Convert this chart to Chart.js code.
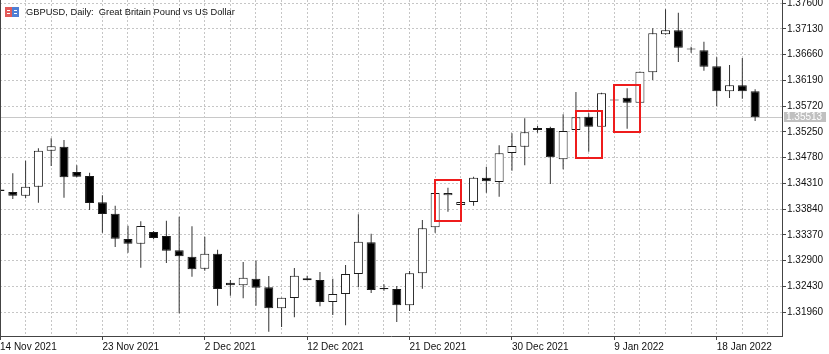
<!DOCTYPE html>
<html>
<head>
<meta charset="utf-8">
<script src="https://cdn.jsdelivr.net/npm/chart.js@4"></script>
<style>
  html, body { margin: 0; padding: 0; background: #fff; }
  canvas { display: block; }
</style>
</head>
<body>
<canvas id="chart" width="829" height="354"></canvas>
<script>
// GBPUSD daily candles, one bar per trading day (Sun..Fri)
const dates = [
  '14 Nov 2021', '15 Nov 2021', '16 Nov 2021', '17 Nov 2021', '18 Nov 2021', '19 Nov 2021',
  '21 Nov 2021', '22 Nov 2021', '23 Nov 2021', '24 Nov 2021', '25 Nov 2021', '26 Nov 2021',
  '28 Nov 2021', '29 Nov 2021', '30 Nov 2021', '1 Dec 2021', '2 Dec 2021', '3 Dec 2021',
  '5 Dec 2021', '6 Dec 2021', '7 Dec 2021', '8 Dec 2021', '9 Dec 2021', '10 Dec 2021',
  '12 Dec 2021', '13 Dec 2021', '14 Dec 2021', '15 Dec 2021', '16 Dec 2021', '17 Dec 2021',
  '19 Dec 2021', '20 Dec 2021', '21 Dec 2021', '22 Dec 2021', '23 Dec 2021', '24 Dec 2021',
  '26 Dec 2021', '27 Dec 2021', '28 Dec 2021', '29 Dec 2021', '30 Dec 2021', '31 Dec 2021',
  '2 Jan 2022', '3 Jan 2022', '4 Jan 2022', '5 Jan 2022', '6 Jan 2022', '7 Jan 2022',
  '9 Jan 2022', '10 Jan 2022', '11 Jan 2022', '12 Jan 2022', '13 Jan 2022', '14 Jan 2022',
  '16 Jan 2022', '17 Jan 2022', '18 Jan 2022', '19 Jan 2022', '20 Jan 2022', '21 Jan 2022'
];

const opens = [
  1.34196, 1.34150, 1.34083, 1.34247, 1.34904, 1.34977, 1.34515, 1.34442, 1.33962, 1.33754,
  1.33292, 1.33206, 1.33420, 1.33347, 1.33086, 1.32969, 1.32750, 1.33024, 1.32494, 1.32447,
  1.32567, 1.32410, 1.32027, 1.32215, 1.32575, 1.32544, 1.32142, 1.32288, 1.32653, 1.33232,
  1.32398, 1.32379, 1.32082, 1.32666, 1.33506, 1.34090, 1.33913, 1.33968, 1.34411, 1.34333,
  1.34862, 1.34977, 1.35282, 1.35318, 1.34747, 1.35282, 1.35525, 1.35342, 1.35826, 1.35872,
  1.35780, 1.36335, 1.37029, 1.37102, 1.36755, 1.36737, 1.36445, 1.35988, 1.36098, 1.35988
];
const highs = [
  1.34223, 1.34491, 1.34721, 1.34948, 1.35130, 1.35099, 1.34637, 1.34502, 1.34090, 1.33900,
  1.33535, 1.33615, 1.33438, 1.33626, 1.33699, 1.33524, 1.33334, 1.33097, 1.32544, 1.32872,
  1.32896, 1.32617, 1.32220, 1.32763, 1.32622, 1.32690, 1.32567, 1.32817, 1.33743, 1.33389,
  1.32465, 1.32434, 1.32708, 1.33639, 1.34132, 1.34229, 1.33977, 1.34429, 1.34612, 1.35003,
  1.35222, 1.35495, 1.35355, 1.35342, 1.35568, 1.35976, 1.35587, 1.35960, 1.35830, 1.36043,
  1.36350, 1.37138, 1.37485, 1.37423, 1.36803, 1.36894, 1.36609, 1.36468, 1.36596, 1.36025
];
const lows = [
  1.34150, 1.34022, 1.34035, 1.33955, 1.34625, 1.34046, 1.34418, 1.33821, 1.33407, 1.33146,
  1.33042, 1.32768, 1.33287, 1.32854, 1.31936, 1.32604, 1.32713, 1.32074, 1.32257, 1.32210,
  1.32074, 1.31600, 1.31686, 1.31863, 1.32538, 1.32064, 1.31905, 1.31717, 1.32410, 1.32306,
  1.32348, 1.31777, 1.31978, 1.32385, 1.33407, 1.33790, 1.33904, 1.33900, 1.34137, 1.34064,
  1.34539, 1.34637, 1.35233, 1.34296, 1.34564, 1.35275, 1.34886, 1.35330, 1.35818, 1.35306,
  1.35775, 1.36195, 1.37020, 1.36523, 1.36693, 1.36364, 1.35720, 1.35866, 1.35853, 1.35446
];
const closes = [
  1.34168, 1.34083, 1.34247, 1.34904, 1.34984, 1.34418, 1.34429, 1.33949, 1.33748, 1.33298,
  1.33206, 1.33529, 1.33310, 1.33079, 1.32976, 1.32739, 1.33024, 1.32379, 1.32447, 1.32586,
  1.32403, 1.32027, 1.32220, 1.32622, 1.32538, 1.32142, 1.32288, 1.32653, 1.33243, 1.32361,
  1.32374, 1.32082, 1.32666, 1.33487, 1.34132, 1.34132, 1.33968, 1.34411, 1.34345, 1.34857,
  1.34990, 1.35240, 1.35318, 1.34783, 1.35264, 1.35514, 1.35342, 1.35952, 1.35822, 1.35780,
  1.36346, 1.37047, 1.37102, 1.36784, 1.36751, 1.36437, 1.35988, 1.36098, 1.35988, 1.35513
];

const priceTicks = [1.31960, 1.32430, 1.32900, 1.33370, 1.33840, 1.34310, 1.34780,
                    1.35250, 1.35720, 1.36190, 1.36660, 1.37130, 1.37600];
const bidPrice = 1.35513;

// red highlight frames: centre bar and price range
const boxBars = [35, 46, 49];
const boxTops = [1.34369, 1.35629, 1.36103];
const boxBottoms = [1.33621, 1.34771, 1.35245];

const titleText = 'GBPUSD, Daily:  Great Britain Pound vs US Dollar';

const bodyData = opens.map((o, i) => ({ x: i, y: [o, closes[i]] }));
const wickData = lows.map((l, i) => ({ x: i, y: [l, highs[i]] }));
const bodyColors = opens.map((o, i) => closes[i] > o ? '#ffffff' : '#000000');

const gridColor = '#c6c6c6';
const axisColor = '#444444';

const decor = {
  id: 'decor',
  beforeDatasetsDraw(chart) {
    const { ctx, chartArea: a, scales: { y } } = chart;
    const py = Math.round(y.getPixelForValue(bidPrice)) + 0.5;
    ctx.save();
    ctx.strokeStyle = '#c8c8c8';
    ctx.lineWidth = 1;
    ctx.beginPath();
    ctx.moveTo(a.left, py);
    ctx.lineTo(a.right, py);
    ctx.stroke();
    ctx.restore();
  },
  afterDatasetsDraw(chart) {
    const { ctx, scales: { x, y } } = chart;
    ctx.save();
    ctx.strokeStyle = '#ee1c1c';
    ctx.lineWidth = 2;
    boxBars.forEach((b, i) => {
      const x1 = Math.round(x.getPixelForValue(b - 1.02));
      const x2 = Math.round(x.getPixelForValue(b + 1.0));
      const y1 = Math.round(y.getPixelForValue(boxTops[i]));
      const y2 = Math.round(y.getPixelForValue(boxBottoms[i]));
      ctx.strokeRect(x1, y1, x2 - x1, y2 - y1);
    });
    ctx.restore();
  },
  afterDraw(chart) {
    const { ctx, chartArea: a, scales: { y } } = chart;
    ctx.save();
    // left frame line
    ctx.strokeStyle = axisColor;
    ctx.lineWidth = 1;
    ctx.beginPath();
    ctx.moveTo(a.left + 0.5, a.top);
    ctx.lineTo(a.left + 0.5, a.bottom);
    ctx.stroke();

    // symbol icon
    ctx.fillStyle = '#e25a5a';
    ctx.fillRect(5, 7, 7, 10);
    ctx.fillStyle = '#4f7fd4';
    ctx.fillRect(12, 7, 7, 10);
    ctx.fillStyle = '#ffffff';
    ctx.fillRect(7, 10, 3, 1);
    ctx.fillRect(7, 13, 3, 1);
    ctx.fillRect(14, 10, 3, 1);
    ctx.fillRect(14, 13, 3, 1);

    // title
    ctx.fillStyle = '#111111';
    ctx.font = '9.3px "Liberation Sans", Arial, sans-serif';
    ctx.textBaseline = 'middle';
    ctx.textAlign = 'left';
    ctx.fillText(titleText, 26, 12);

    // bid price label on the axis
    const py = Math.round(y.getPixelForValue(bidPrice)) + 0.5;
    ctx.fillStyle = '#c0c0c0';
    ctx.fillRect(784, py - 5.5, 42, 10);
    ctx.fillStyle = '#ffffff';
    ctx.font = '10px "Liberation Sans", Arial, sans-serif';
    ctx.fillText(bidPrice.toFixed(5), 786, py);
    ctx.restore();
  }
};

new Chart(document.getElementById('chart'), {
  type: 'bar',
  data: {
    datasets: [
      {
        label: 'body',
        data: bodyData,
        order: 0,
        grouped: false,
        barThickness: 9,
        minBarLength: 1,
        backgroundColor: bodyColors,
        borderColor: '#1a1a1a',
        borderWidth: 1,
        borderSkipped: false,
        inflateAmount: 0
      },
      {
        label: 'wick',
        data: wickData,
        order: 1,
        grouped: false,
        barThickness: 1,
        backgroundColor: '#333333',
        borderWidth: 0,
        inflateAmount: 0
      }
    ]
  },
  options: {
    responsive: false,
    animation: false,
    devicePixelRatio: 1,
    layout: { padding: 0 },
    plugins: {
      legend: { display: false },
      tooltip: { enabled: false }
    },
    scales: {
      x: {
        type: 'linear',
        min: 0,
        max: 61.1,
        offset: false,
        afterBuildTicks(scale) {
          const t = [];
          for (let i = 0; i <= 60; i += 2) t.push({ value: i });
          scale.ticks = t;
        },
        afterFit(scale) {
          scale.height = 18;
          scale.paddingLeft = 0;
          scale.paddingRight = 0;
        },
        ticks: {
          autoSkip: false,
          maxRotation: 0,
          minRotation: 0,
          align: 'start',
          padding: 1,
          color: '#111111',
          font: { family: '"Liberation Sans", Arial, sans-serif', size: 10 },
          callback: (v) => (v % 8 === 0 && dates[v]) ? dates[v] : ''
        },
        grid: {
          offset: false,
          color: gridColor,
          tickLength: 4,
          tickColor: (c) => (c.tick && c.tick.value % 8 === 0) ? axisColor : 'rgba(0,0,0,0)'
        },
        border: { color: axisColor, width: 1, dash: [2, 2] }
      },
      y: {
        type: 'linear',
        position: 'right',
        min: 1.31522,
        max: 1.37655,
        afterBuildTicks(scale) {
          scale.ticks = priceTicks.map(v => ({ value: v }));
        },
        afterFit(scale) {
          scale.width = 47;
          scale.paddingTop = 0;
          scale.paddingBottom = 0;
        },
        ticks: {
          padding: 1,
          color: '#111111',
          font: { family: '"Liberation Sans", Arial, sans-serif', size: 10 },
          callback: (v) => Number(v).toFixed(5)
        },
        grid: {
          color: gridColor,
          tickLength: 4,
          tickColor: axisColor
        },
        border: { color: axisColor, width: 1, dash: [2, 2] }
      }
    }
  },
  plugins: [decor]
});
</script>
</body>
</html>
